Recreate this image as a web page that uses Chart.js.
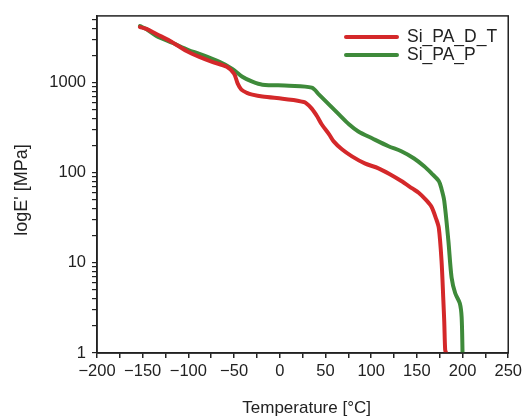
<!DOCTYPE html>
<html>
<head>
<meta charset="utf-8">
<script src="https://cdn.jsdelivr.net/npm/chart.js@4/dist/chart.umd.min.js"></script>
<style>
  html, body { margin: 0; padding: 0; background: #fff; }
  #wrap { width: 526px; height: 416px; }
</style>
</head>
<body>
<div id="wrap"><canvas id="dmaChart"></canvas></div>
<script>
// 温度 [°C] と貯蔵弾性率 E' [MPa]
const tempDT = [-153, -146, -135, -120, -102, -88, -74, -58, -50, -46, -42, -36, -30, -19, 3, 15, 24, 28, 35, 41, 46, 54, 59, 68, 79, 93, 108, 120, 133, 145, 152, 160, 166, 171, 174, 177, 179, 180, 181, 182];
const modDT = [4130, 3950, 3460, 2900, 2250, 1930, 1700, 1497, 1254, 973, 835, 770, 735, 700, 664, 640, 616, 600, 515, 421, 343, 267, 223, 182, 152, 127, 112, 97, 81, 67, 60, 50, 42, 31, 24.5, 10.6, 3.84, 2.2, 1.08, 1];

const tempP = [-153, -146, -135, -117, -100, -88, -66, -52, -41, -30, -19, 10, 35, 43, 54, 65, 76, 86, 101, 119, 133, 147, 158, 166, 174, 177, 180, 184.5, 188, 192, 197, 199, 200];
const modP = [4240, 3930, 3300, 2750, 2300, 2083, 1700, 1423, 1162, 1024, 948, 925, 879, 735, 571, 442, 343, 287, 241, 197, 173, 144, 118, 98.6, 81, 66, 48.7, 17.6, 6.9, 4.6, 3.56, 2.5, 1];

const seriesLabels = ["Si_PA_D_T", "Si_PA_P"];

// 軸の範囲
const xMin = -200, xMax = 250, xStep = 25;
const yMin = 1, yMax = 5500;

const toPoints = (xs, ys) => xs.map((x, i) => ({ x: x, y: ys[i] }));

// 対数軸の目盛（1, 2, ... 9, 10, 20, ...）
const logTicks = [];
for (let d = 1; d <= 1000; d *= 10) {
    for (let m = 1; m <= 9; m++) {
        const v = m * d;
        if (v <= yMax) logTicks.push(v);
    }
}

const FONT = "'Liberation Sans', Arial, sans-serif";

// 枠線・軸タイトル・凡例を描くプラグイン
const framePlugin = {
    id: "frame",
    afterDraw(chart) {
        const { ctx, chartArea: a } = chart;
        ctx.save();
        ctx.strokeStyle = "#222";
        ctx.lineWidth = 1.5;
        ctx.strokeRect(a.left, a.top, a.right - a.left, a.bottom - a.top);

        ctx.fillStyle = "#222";
        ctx.font = "17px " + FONT;
        ctx.textAlign = "center";
        ctx.textBaseline = "middle";
        ctx.fillText("Temperature [°C]", (a.left + a.right) / 2 + 4, 408);

        ctx.save();
        ctx.translate(22, 190);
        ctx.rotate(-Math.PI / 2);
        ctx.font = "18px " + FONT;
        ctx.fillText("logE' [MPa]", 0, 0);
        ctx.restore();

        // 凡例
        ctx.textAlign = "left";
        ctx.font = "17.5px " + FONT;
        chart.data.datasets.forEach((ds, i) => {
            const y = 37 + i * 18;
            ctx.strokeStyle = ds.borderColor;
            ctx.lineWidth = 4;
            ctx.lineCap = "round";
            ctx.beginPath();
            ctx.moveTo(346, y);
            ctx.lineTo(397, y);
            ctx.stroke();
            ctx.fillStyle = "#222";
            ctx.fillText(ds.label, 407, y);
        });
        ctx.restore();
    },
};

new Chart(document.getElementById("dmaChart"), {
    type: "scatter",
    data: {
        datasets: [
            {
                label: seriesLabels[0],
                data: toPoints(tempDT, modDT),
                borderColor: "#d4282a",
                backgroundColor: "#d4282a",
            },
            {
                label: seriesLabels[1],
                data: toPoints(tempP, modP),
                borderColor: "#3e8a3a",
                backgroundColor: "#3e8a3a",
            },
        ],
    },
    options: {
        responsive: true,
        maintainAspectRatio: false,
        animation: false,
        layout: { padding: { top: 14, right: 16, left: 0, bottom: 0 } },
        datasets: {
            scatter: {
                showLine: true,
                pointRadius: 0,
                borderWidth: 4,
                tension: 0.3,
                borderCapStyle: "round",
                borderJoinStyle: "round",
            },
        },
        scales: {
            x: {
                type: "linear",
                min: xMin,
                max: xMax,
                ticks: {
                    stepSize: xStep,
                    color: "#222",
                    font: { family: FONT, size: 16.5 },
                    padding: 4,
                    maxRotation: 0,
                    autoSkip: false,
                    callback: (v) => (v % 50 === 0 ? String(v).replace("-", "\u2212") : ""),
                },
                grid: { drawOnChartArea: false, drawTicks: true, tickLength: 5, color: "#222", lineWidth: 1.5 },
                border: { display: true, color: "#222", width: 1.5 },
                afterFit: (s) => { s.height = 63; },
            },
            y: {
                type: "logarithmic",
                min: yMin,
                max: yMax,
                afterBuildTicks: (s) => { s.ticks = logTicks.map((v) => ({ value: v })); },
                ticks: {
                    color: "#222",
                    font: { family: FONT, size: 16.5 },
                    padding: 6,
                    autoSkip: false,
                    callback: (v) => ([1, 10, 100, 1000].includes(v) ? String(v) : ""),
                },
                grid: { drawOnChartArea: false, drawTicks: true, tickLength: 5, color: "#222", lineWidth: 1.2 },
                border: { display: true, color: "#222", width: 1.5 },
                afterFit: (s) => { s.width = 97; },
            },
        },
        plugins: {
            legend: { display: false },
            tooltip: { enabled: false },
        },
    },
    plugins: [framePlugin],
});
</script>
</body>
</html>
